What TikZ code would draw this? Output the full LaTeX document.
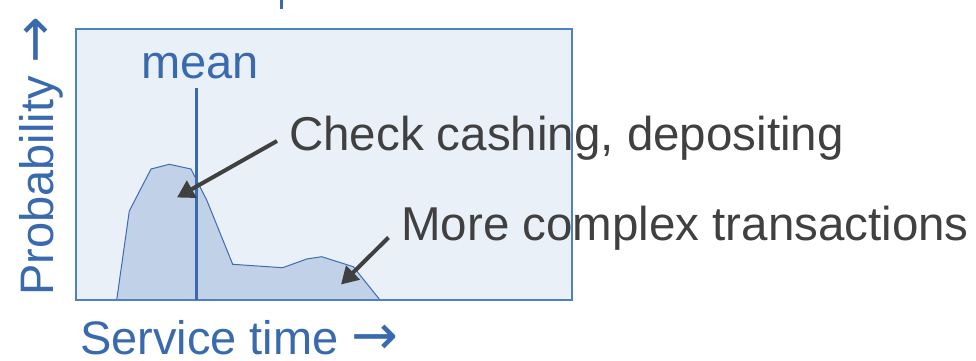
\documentclass[tikz,border=0pt]{standalone}
\usepackage{fontspec}
\setmainfont{Liberation Sans}
\newfontfamily\arrowfont{DejaVu Sans}
\usetikzlibrary{arrows.meta}
\definecolor{boxfill}{RGB}{234,240,248}
\definecolor{boxline}{RGB}{79,129,189}
\definecolor{distfill}{RGB}{192,209,232}
\definecolor{distline}{RGB}{62,108,180}
\definecolor{axisblue}{RGB}{56,106,173}
\definecolor{calloutgray}{RGB}{64,64,64}
\newcommand{\bigarrow}{{\arrowfont\fontsize{56}{56}\selectfont →}}
\tikzset{
  axislabel/.style={font=\fontsize{47}{56}\selectfont, text=axisblue, inner sep=0pt},
  callout/.style={font=\fontsize{47.5}{56}\selectfont, text=calloutgray, inner sep=0pt},
  pointer/.style={draw=calloutgray, line width=4pt, -{Triangle[length=17pt,width=19pt]}},
}
\begin{document}
\begin{tikzpicture}[x=1pt,y=-1pt]
\useasboundingbox (0,0) rectangle (976,360);
% plot area
\fill[boxfill] (76,29) rectangle (572,300);
% service-time distribution
\filldraw[fill=distfill, draw=distline, line width=1pt]
  (116.7,300) -- (129.3,211) -- (151,169) -- (169.3,164.3) -- (191,169)
  -- (206.7,200) -- (232.7,264.3) -- (282.7,267.7) -- (306.7,259)
  -- (321.7,256.7) -- (353.3,266.7) -- (380,300) -- cycle;
\draw[boxline, line width=1.3pt] (76,29) rectangle (572,300);
% mean marker
\node[axislabel, anchor=base west] (mean) at (141,78) {mean};
\coordinate (meantop) at (196.5,88);
\coordinate (meanbot) at (196.5,300);
\draw[axisblue, line width=3.5pt] (meantop) -- (meanbot);
% fragment of a line of text above the plot
\fill[axisblue] (279.5,0) rectangle (282.5,9);
% axis labels
\node[axislabel, anchor=base west] (xlab) at (80,354) {Service time \bigarrow};
\node[axislabel, anchor=base west, rotate=90] (ylab) at (53,296) {Probability \bigarrow};
% callouts
\node[callout, anchor=base west] (checks) at (289,150) {Check cashing, depositing};
\node[callout, anchor=base west] (complex) at (401,240) {More complex transactions};
\coordinate (t1) at (277,141);
\coordinate (h1) at (177,197.5);
\coordinate (t2) at (388.5,237.5);
\coordinate (h2) at (341,284.5);
\draw[pointer] (t1) -- (h1);
\draw[pointer] (t2) -- (h2);
\end{tikzpicture}
\end{document}
